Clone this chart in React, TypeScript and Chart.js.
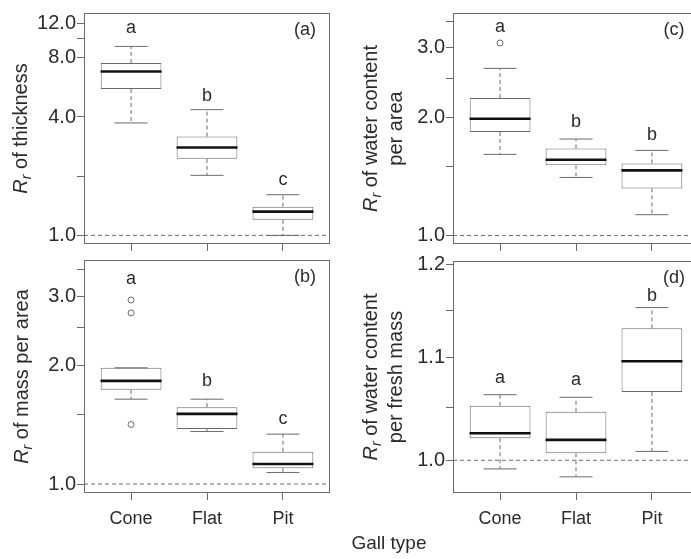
import React, { useEffect, useRef } from "react";
import { Chart, registerables } from "chart.js";

Chart.register(...registerables);

// ---------- data ----------
const categories = ["Cone", "Flat", "Pit"];
const categoryPositions = [1, 2, 3];
const xRange = [0.38, 3.62];

// (a) R_r of thickness
const thicknessLow = [3.73, 2.02, 1.0];
const thicknessQ1 = [5.55, 2.45, 1.2];
const thicknessMedian = [6.82, 2.8, 1.32];
const thicknessQ3 = [7.53, 3.18, 1.4];
const thicknessHigh = [9.14, 4.36, 1.61];
const thicknessOutliers: number[][] = [[], [], []];
const thicknessLetters = ["a", "b", "c"];
const thicknessLetterAt = [10.7, 4.8, 1.8];
const thicknessTicks = [1, 2, 4, 8, 10, 12];
const thicknessTickLabels = ["1.0", "", "4.0", "8.0", "", "12.0"];
const thicknessRange = [0.904, 13.52];

// (b) R_r of mass per area
const massLow = [1.643, 1.36, 1.07];
const massQ1 = [1.735, 1.379, 1.096];
const massMedian = [1.829, 1.508, 1.124];
const massQ3 = [1.974, 1.568, 1.208];
const massHigh = [1.974, 1.643, 1.339];
const massOutliers: number[][] = [[2.936, 2.722, 1.417], [], []];
const massLetters = ["a", "b", "c"];
const massLetterAt = [3.224, 1.779, 1.422];
const massTicks = [1, 1.5, 2, 2.5, 3, 3.5];
const massTickLabels = ["1.0", "", "2.0", "", "3.0", ""];
const massRange = [0.9488, 3.71];

// (c) R_r of water content per area
const waterAreaLow = [1.607, 1.404, 1.129];
const waterAreaQ1 = [1.832, 1.507, 1.317];
const waterAreaMedian = [1.98, 1.557, 1.463];
const waterAreaQ3 = [2.235, 1.664, 1.524];
const waterAreaHigh = [2.659, 1.758, 1.645];
const waterAreaOutliers: number[][] = [[3.085], [], []];
const waterAreaLetters = ["a", "b", "b"];
const waterAreaLetterAt = [3.29, 1.886, 1.751];
const waterAreaTicks = [1, 1.5, 2, 2.5, 3, 3.5];
const waterAreaTickLabels = ["1.0", "", "2.0", "", "3.0", ""];
const waterAreaRange = [0.951, 3.677];

// (d) R_r of water content per fresh mass
const waterMassLow = [0.992, 0.9847, 1.0083];
const waterMassQ1 = [1.0208, 1.0065, 1.0657];
const waterMassMedian = [1.0255, 1.0192, 1.0966];
const waterMassQ3 = [1.052, 1.0462, 1.1307];
const waterMassHigh = [1.063, 1.0604, 1.1528];
const waterMassOutliers: number[][] = [[], [], []];
const waterMassLetters = ["a", "a", "b"];
const waterMassLetterAt = [1.0748, 1.0722, 1.1595];
const waterMassTicks = [1, 1.05, 1.1, 1.15, 1.2];
const waterMassTickLabels = ["1.0", "", "1.1", "", "1.2"];
const waterMassRange = [0.9718, 1.2039];

const referenceValue = 1.0;
const xTitle = "Gall type";

// ---------- styles ----------
const FONT = '"Liberation Sans", Arial, Helvetica, sans-serif';
const TEXT = "#2b2b2b";
const LINE = "#6a6a6a";
const MEDIAN = "#111111";
const FS_YTICK = 20;
const FS_XTICK = 18;
const FS_TITLE = 20;
const FS_SUB = 14;
const FS_LETTER = 18;

type Seg = { t: string; italic?: boolean; sub?: boolean };

type PanelData = {
  low: number[];
  q1: number[];
  median: number[];
  q3: number[];
  high: number[];
  outliers: number[][];
  letters: string[];
  letterAt: number[];
  ticks: number[];
  tickLabels: string[];
  range: number[];
  tag: string;
  title: Seg[][];
};

type Frame = {
  left: number;
  top: number;
  right: number;
  bottom: number;
  showX: boolean;
  titleX: number[];
};

const panels: { data: PanelData; frame: Frame }[] = [
  {
    data: {
      low: thicknessLow, q1: thicknessQ1, median: thicknessMedian, q3: thicknessQ3, high: thicknessHigh,
      outliers: thicknessOutliers, letters: thicknessLetters, letterAt: thicknessLetterAt,
      ticks: thicknessTicks, tickLabels: thicknessTickLabels, range: thicknessRange, tag: "(a)",
      title: [[{ t: "R", italic: true }, { t: "r", italic: true, sub: true }, { t: " of thickness" }]],
    },
    frame: { left: 84, top: 13, right: 330, bottom: 244, showX: false, titleX: [-64] },
  },
  {
    data: {
      low: massLow, q1: massQ1, median: massMedian, q3: massQ3, high: massHigh,
      outliers: massOutliers, letters: massLetters, letterAt: massLetterAt,
      ticks: massTicks, tickLabels: massTickLabels, range: massRange, tag: "(b)",
      title: [[{ t: "R", italic: true }, { t: "r", italic: true, sub: true }, { t: " of mass per area" }]],
    },
    frame: { left: 84, top: 260, right: 330, bottom: 493, showX: true, titleX: [-63] },
  },
  {
    data: {
      low: waterAreaLow, q1: waterAreaQ1, median: waterAreaMedian, q3: waterAreaQ3, high: waterAreaHigh,
      outliers: waterAreaOutliers, letters: waterAreaLetters, letterAt: waterAreaLetterAt,
      ticks: waterAreaTicks, tickLabels: waterAreaTickLabels, range: waterAreaRange, tag: "(c)",
      title: [
        [{ t: "R", italic: true }, { t: "r", italic: true, sub: true }, { t: " of water content" }],
        [{ t: "per area" }],
      ],
    },
    frame: { left: 453, top: 13, right: 699, bottom: 244, showX: false, titleX: [-83, -58] },
  },
  {
    data: {
      low: waterMassLow, q1: waterMassQ1, median: waterMassMedian, q3: waterMassQ3, high: waterMassHigh,
      outliers: waterMassOutliers, letters: waterMassLetters, letterAt: waterMassLetterAt,
      ticks: waterMassTicks, tickLabels: waterMassTickLabels, range: waterMassRange, tag: "(d)",
      title: [
        [{ t: "R", italic: true }, { t: "r", italic: true, sub: true }, { t: " of water content" }],
        [{ t: "per fresh mass" }],
      ],
    },
    frame: { left: 453, top: 261, right: 699, bottom: 493, showX: true, titleX: [-83, -58] },
  },
];

const PAD_TOP = 20;
const PAD_RIGHT = 15;
const PAD_LEFT = 30;
const Y_AXIS_W = 84;

function segFont(s: Seg) {
  const size = s.sub ? FS_SUB : FS_TITLE;
  return `${s.italic ? "italic " : ""}${size}px ${FONT}`;
}

function drawTitleLine(ctx: CanvasRenderingContext2D, segs: Seg[], cx: number, cy: number) {
  let total = 0;
  const widths = segs.map((s) => {
    ctx.font = segFont(s);
    const w = ctx.measureText(s.t).width;
    total += w;
    return w;
  });
  ctx.save();
  ctx.translate(cx, cy);
  ctx.rotate(-Math.PI / 2);
  ctx.fillStyle = TEXT;
  ctx.textAlign = "left";
  ctx.textBaseline = "alphabetic";
  let x = -total / 2;
  segs.forEach((s, i) => {
    ctx.font = segFont(s);
    ctx.fillText(s.t, x, s.sub ? 11 : 7);
    x += widths[i];
  });
  ctx.restore();
}

function makeConfig(p: PanelData, f: Frame): any {
  const boxData = categoryPositions.map((x, i) => ({ x, y: [p.q1[i], p.q3[i]] }));
  const whiskerData: any[] = [];
  categoryPositions.forEach((x, i) => {
    whiskerData.push({ x, y: p.q3[i] }, { x, y: p.high[i] }, { x, y: null });
    whiskerData.push({ x, y: p.q1[i] }, { x, y: p.low[i] }, { x, y: null });
  });
  const capData = categoryPositions.flatMap((x, i) => [
    { x, y: p.low[i] },
    { x, y: p.high[i] },
  ]);
  const medianData = categoryPositions.map((x, i) => ({ x, y: p.median[i] }));
  const outlierData = categoryPositions.flatMap((x, i) => p.outliers[i].map((y) => ({ x, y })));

  const xAxisH = f.showX ? 42 : 16;

  const annotate = {
    id: "annotate",
    beforeDatasetsDraw(chart: any) {
      const { ctx, chartArea, scales } = chart;
      const y = scales.y.getPixelForValue(referenceValue);
      ctx.save();
      ctx.strokeStyle = LINE;
      ctx.lineWidth = 1;
      ctx.setLineDash([4, 3]);
      ctx.beginPath();
      ctx.moveTo(chartArea.left, y);
      ctx.lineTo(chartArea.right, y);
      ctx.stroke();
      ctx.restore();
    },
    afterDraw(chart: any) {
      const { ctx, chartArea, scales } = chart;
      ctx.save();
      ctx.strokeStyle = LINE;
      ctx.lineWidth = 1;
      ctx.setLineDash([]);
      ctx.strokeRect(chartArea.left + 0.5, chartArea.top + 0.5, chartArea.right - chartArea.left - 1, chartArea.bottom - chartArea.top - 1);
      ctx.fillStyle = TEXT;
      ctx.font = `${FS_LETTER}px ${FONT}`;
      ctx.textAlign = "center";
      ctx.textBaseline = "alphabetic";
      p.letters.forEach((l, i) => {
        ctx.fillText(l, scales.x.getPixelForValue(categoryPositions[i]), scales.y.getPixelForValue(p.letterAt[i]));
      });
      ctx.fillText(p.tag, chartArea.right - 25, chartArea.top + 22);
      const cy = (chartArea.top + chartArea.bottom) / 2;
      p.title.forEach((line, i) => drawTitleLine(ctx, line, chartArea.left + f.titleX[i], cy));
      ctx.restore();
    },
  };

  return {
    type: "bar",
    data: {
      datasets: [
        {
          type: "line",
          data: medianData,
          showLine: false,
          pointStyle: "line",
          pointRadius: 30.5,
          pointBorderWidth: 2.6,
          pointBorderColor: MEDIAN,
          pointBackgroundColor: MEDIAN,
          order: 0,
        },
        {
          type: "line",
          data: capData,
          showLine: false,
          pointStyle: "line",
          pointRadius: 16.5,
          pointBorderWidth: 1,
          pointBorderColor: LINE,
          order: 1,
        },
        {
          type: "line",
          data: outlierData,
          showLine: false,
          pointStyle: "circle",
          pointRadius: 3,
          pointBorderWidth: 1,
          pointBorderColor: LINE,
          pointBackgroundColor: "#ffffff",
          order: 1,
        },
        {
          type: "line",
          data: whiskerData,
          spanGaps: false,
          borderColor: LINE,
          borderWidth: 1,
          borderDash: [4, 3],
          pointRadius: 0,
          tension: 0,
          order: 2,
        },
        {
          type: "bar",
          data: boxData,
          backgroundColor: "#ffffff",
          borderColor: LINE,
          borderWidth: 1,
          borderSkipped: false,
          barPercentage: 0.8,
          categoryPercentage: 1,
          order: 3,
        },
      ],
    },
    options: {
      animation: false,
      responsive: false,
      maintainAspectRatio: false,
      devicePixelRatio: 1,
      events: [],
      layout: { autoPadding: false, padding: { top: PAD_TOP, right: PAD_RIGHT, left: PAD_LEFT, bottom: 0 } },
      plugins: { legend: { display: false }, tooltip: { enabled: false } },
      scales: {
        x: {
          type: "linear",
          min: xRange[0],
          max: xRange[1],
          offset: false,
          afterBuildTicks: (axis: any) => {
            axis.ticks = categoryPositions.map((v) => ({ value: v }));
          },
          afterFit: (axis: any) => {
            axis.height = xAxisH;
          },
          border: { display: false },
          grid: { offset: false, drawOnChartArea: false, drawTicks: true, tickLength: 7, color: LINE },
          ticks: {
            display: f.showX,
            autoSkip: false,
            maxRotation: 0,
            padding: 8,
            color: TEXT,
            font: { size: FS_XTICK, family: FONT },
            callback: (_v: any, i: number) => categories[i],
          },
        },
        y: {
          type: "logarithmic",
          min: p.range[0],
          max: p.range[1],
          afterBuildTicks: (axis: any) => {
            axis.ticks = p.ticks.map((v) => ({ value: v }));
          },
          afterFit: (axis: any) => {
            axis.width = Y_AXIS_W;
          },
          border: { display: false },
          grid: { drawOnChartArea: false, drawTicks: true, tickLength: 7, color: LINE },
          ticks: {
            autoSkip: false,
            padding: 1,
            color: TEXT,
            font: { size: FS_YTICK, family: FONT },
            callback: (_v: any, i: number) => p.tickLabels[i],
          },
        },
      },
    },
    plugins: [annotate],
  };
}

function BoxPanel({ data, frame }: { data: PanelData; frame: Frame }) {
  const ref = useRef<HTMLCanvasElement>(null);
  const left = frame.left - Y_AXIS_W - PAD_LEFT;
  const top = frame.top - PAD_TOP;
  const width = frame.right - left + PAD_RIGHT;
  const height = PAD_TOP + (frame.bottom - frame.top) + (frame.showX ? 42 : 16);
  useEffect(() => {
    if (!ref.current) return;
    const chart = new Chart(ref.current, makeConfig(data, frame));
    return () => chart.destroy();
  }, []);
  return (
    <canvas
      ref={ref}
      width={width}
      height={height}
      style={{ position: "absolute", left, top, width, height }}
    />
  );
}

export default function App() {
  return (
    <div
      style={{
        position: "fixed",
        left: 0,
        top: 0,
        width: 691,
        height: 559,
        overflow: "hidden",
        background: "#ffffff",
      }}
    >
      {panels.map((pp, i) => (
        <BoxPanel key={i} data={pp.data} frame={pp.frame} />
      ))}
      <div
        style={{
          position: "absolute",
          left: 389 - 80,
          top: 531,
          width: 160,
          lineHeight: "24px",
          textAlign: "center",
          fontFamily: FONT,
          fontSize: 19,
          color: TEXT,
        }}
      >
        {xTitle}
      </div>
    </div>
  );
}
